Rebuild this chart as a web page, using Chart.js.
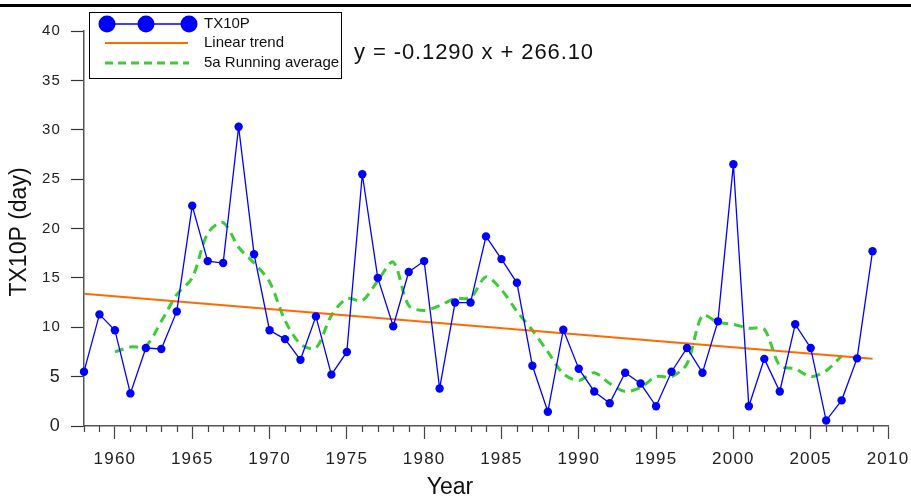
<!DOCTYPE html>
<html>
<head>
<meta charset="utf-8">
<script src="https://cdn.jsdelivr.net/npm/chart.js@4/dist/chart.umd.min.js"></script>
<style>
  html, body { margin: 0; padding: 0; background: #fff; }
  canvas { display: block; }
</style>
</head>
<body>
<canvas id="c" width="911" height="497"></canvas>
<script>
// ---- Data ----
const years = [1958,1959,1960,1961,1962,1963,1964,1965,1966,1967,1968,1969,1970,1971,1972,1973,1974,1975,1976,1977,1978,1979,1980,1981,1982,1983,1984,1985,1986,1987,1988,1989,1990,1991,1992,1993,1994,1995,1996,1997,1998,1999,2000,2001,2002,2003,2004,2005,2006,2007,2008,2009];
const tx10p = [5.5,11.3,9.7,3.3,7.9,7.8,11.6,22.3,16.7,16.5,30.3,17.4,9.7,8.8,6.7,11.1,5.2,7.5,25.5,15.0,10.1,15.6,16.7,3.8,12.5,12.5,19.2,16.9,14.5,6.1,1.45,9.75,5.8,3.5,2.3,5.4,4.3,2.0,5.5,7.9,5.4,10.6,26.5,2.0,6.8,3.5,10.3,7.9,0.55,2.6,6.85,17.7];
const runYears = [1960,1961,1962,1963,1964,1965,1966,1967,1968,1969,1970,1971,1972,1973,1974,1975,1976,1977,1978,1979,1980,1981,1982,1983,1984,1985,1986,1987,1988,1989,1990,1991,1992,1993,1994,1995,1996,1997,1998,1999,2000,2001,2002,2003,2004,2005,2006,2007];
const runAvg = [7.5,8.0,8.1,10.6,13.3,15.0,19.5,20.6,18.1,16.5,14.6,10.7,8.3,7.9,11.2,12.9,12.7,14.7,16.6,12.2,11.7,12.2,12.9,13.0,15.1,13.8,11.6,9.7,7.5,5.3,4.6,5.4,4.3,3.5,3.9,5.0,5.0,6.3,11.2,10.5,10.3,9.9,9.8,6.1,5.8,5.0,5.6,7.1];
const trendYears = [1958, 2009];
const trendValues = [13.4, 6.8];
const xTickLabels = [1960,1965,1970,1975,1980,1985,1990,1995,2000,2005,2010];
const yTickLabels = [0,5,10,15,20,25,30,35,40];
const seriesNames = ['TX10P', 'Linear trend', '5a Running average'];
const equationText = 'y = -0.1290 x + 266.10';
const xTitle = 'Year';
const yTitle = 'TX10P (day)';

const BLUE = '#0000ff', ORANGE = '#ff6a00', GREEN = '#3ccc33';
const SANS = '"Liberation Sans", Arial, sans-serif';

const pts = (xs, ys) => xs.map((x, i) => ({x: x, y: ys[i]}));

const decorPlugin = {
  id: 'decor',
  beforeDraw(chart) {
    chart.ctx.letterSpacing = '1.2px';
  },
  beforeDatasetsDraw(chart) {
    chart.ctx.letterSpacing = '0px';
  },
  afterDraw(chart) {
    const ctx = chart.ctx;
    const xs = chart.scales.x;
    const bottom = chart.chartArea.bottom;
    ctx.save();
    ctx.letterSpacing = '0px';
    // minor year ticks
    ctx.strokeStyle = '#444';
    ctx.lineWidth = 1.2;
    const minor = years.concat([2010]).filter(y => xTickLabels.indexOf(y) < 0);
    minor.forEach(y => {
      const px = Math.round(xs.getPixelForValue(y)) + 0.5;
      ctx.beginPath();
      ctx.moveTo(px, bottom);
      ctx.lineTo(px, bottom + 6);
      ctx.stroke();
    });
    // top frame line
    ctx.fillStyle = '#000';
    ctx.fillRect(0, 4, 911, 3);
    // axis titles
    ctx.fillStyle = '#111';
    ctx.font = '23px ' + SANS;
    ctx.textAlign = 'center';
    ctx.textBaseline = 'alphabetic';
    ctx.fillText(xTitle, 450, 494);
    ctx.save();
    ctx.translate(26, 232);
    ctx.rotate(-Math.PI / 2);
    ctx.fillText(yTitle, 0, 0);
    ctx.restore();
    // equation
    ctx.font = '22px ' + SANS;
    ctx.textAlign = 'left';
    ctx.textBaseline = 'middle';
    ctx.letterSpacing = '0.9px';
    ctx.fillText(equationText, 354, 53);
    ctx.letterSpacing = '0px';
    // legend
    ctx.lineWidth = 1;
    ctx.strokeStyle = '#000';
    ctx.strokeRect(89.5, 12.5, 252, 66);
    ctx.strokeStyle = BLUE;
    ctx.lineWidth = 1.5;
    ctx.beginPath(); ctx.moveTo(107, 24); ctx.lineTo(189, 24); ctx.stroke();
    ctx.fillStyle = BLUE;
    [107, 146, 189].forEach(cx => { ctx.beginPath(); ctx.arc(cx, 24, 8.5, 0, Math.PI * 2); ctx.fill(); });
    ctx.strokeStyle = ORANGE;
    ctx.lineWidth = 2;
    ctx.beginPath(); ctx.moveTo(105, 43); ctx.lineTo(188, 43); ctx.stroke();
    ctx.strokeStyle = GREEN;
    ctx.lineWidth = 3;
    ctx.setLineDash([8, 5]);
    ctx.beginPath(); ctx.moveTo(105, 63); ctx.lineTo(189, 63); ctx.stroke();
    ctx.setLineDash([]);
    ctx.fillStyle = '#111';
    ctx.font = '15px ' + SANS;
    ctx.textAlign = 'left';
    ctx.textBaseline = 'middle';
    ctx.fillText(seriesNames[0], 204, 24);
    ctx.fillText(seriesNames[1], 204, 43);
    ctx.fillText(seriesNames[2], 204, 63);
    ctx.restore();
  }
};

new Chart(document.getElementById('c'), {
  type: 'line',
  data: {
    datasets: [
      {
        label: seriesNames[2],
        data: pts(runYears, runAvg),
        borderColor: GREEN,
        borderWidth: 3,
        borderDash: [9, 6],
        pointRadius: 0,
        tension: 0.3,
        fill: false,
        clip: false,
        order: 3
      },
      {
        label: seriesNames[1],
        data: pts(trendYears, trendValues),
        borderColor: ORANGE,
        borderWidth: 2,
        pointRadius: 0,
        tension: 0,
        fill: false,
        clip: false,
        order: 2
      },
      {
        label: seriesNames[0],
        data: pts(years, tx10p),
        borderColor: BLUE,
        backgroundColor: BLUE,
        borderWidth: 1.3,
        pointRadius: 4.2,
        pointBorderWidth: 0,
        pointBackgroundColor: BLUE,
        tension: 0,
        fill: false,
        clip: false,
        order: 1
      }
    ]
  },
  options: {
    responsive: false,
    devicePixelRatio: 1,
    animation: false,
    layout: { padding: { top: 31, right: 23, left: 0, bottom: 0 } },
    plugins: { legend: { display: false }, tooltip: { enabled: false }, title: { display: false } },
    scales: {
      x: {
        type: 'linear',
        min: 1958,
        max: 2010,
        afterFit(s) { s.height = 71; s.paddingLeft = 0; s.paddingRight = 0; },
        afterBuildTicks(s) { s.ticks = xTickLabels.map(v => ({ value: v })); },
        border: { display: true, color: '#555', width: 1.5 },
        grid: { drawOnChartArea: false, drawTicks: true, tickLength: 13, color: '#444', tickWidth: 1.2 },
        ticks: {
          autoSkip: false,
          maxRotation: 0,
          padding: 10,
          color: '#222',
          font: { family: SANS, size: 17 },
          callback: v => String(v)
        }
      },
      y: {
        type: 'linear',
        min: 0,
        max: 40,
        afterFit(s) { s.width = 84; s.paddingTop = 0; s.paddingBottom = 0; },
        afterBuildTicks(s) { s.ticks = yTickLabels.map(v => ({ value: v })); },
        border: { display: true, color: '#555', width: 1.5 },
        grid: { drawOnChartArea: false, drawTicks: true, tickLength: 13, color: '#333', tickWidth: 1.2 },
        ticks: {
          padding: 10,
          color: '#222',
          font: ctx => (ctx.tick && ctx.tick.value < 10)
            ? { family: SANS, size: 18 }
            : { family: SANS, size: 15 },
          callback: v => String(v)
        }
      }
    }
  },
  plugins: [decorPlugin]
});
</script>
</body>
</html>
